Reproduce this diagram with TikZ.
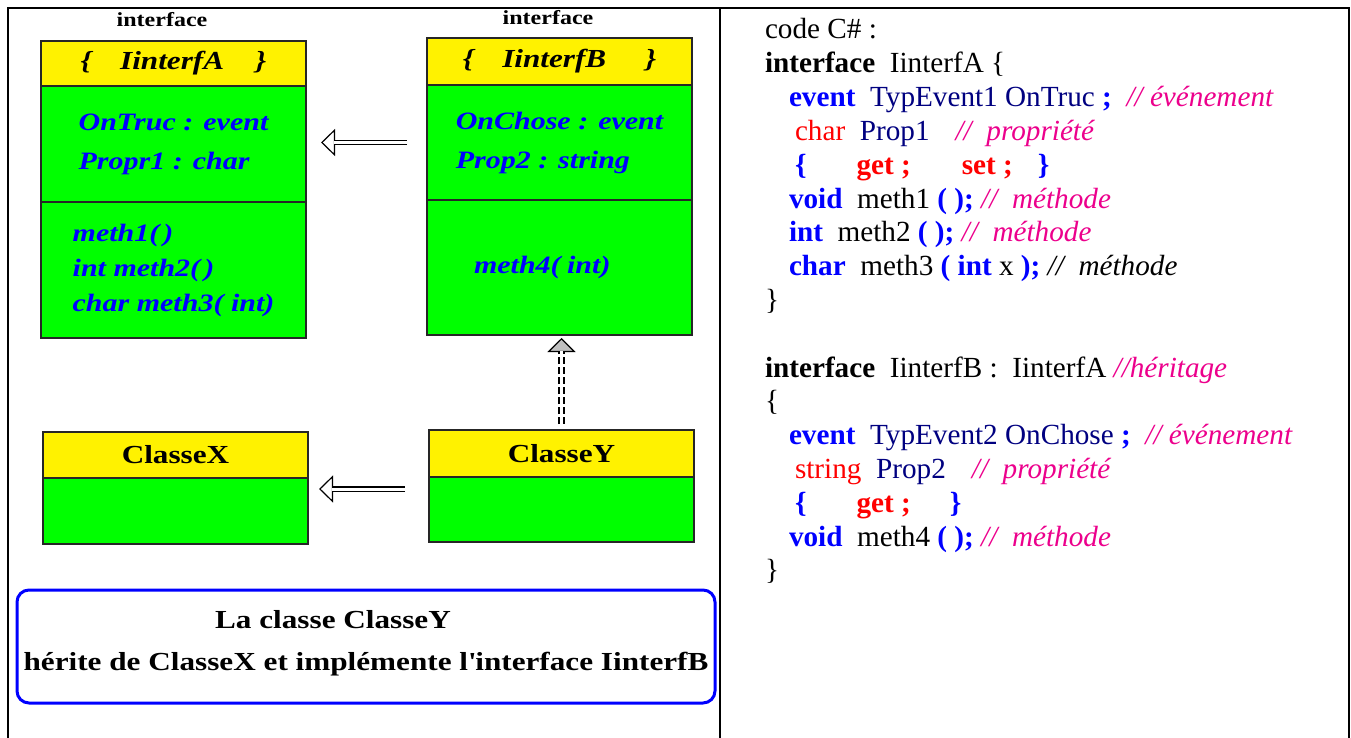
\documentclass[tikz,border=0pt]{standalone}
\usepackage{fontspec}
\setmainfont{Liberation Serif}
\newfontfamily\diagfont[FakeStretch=1.2]{Liberation Serif}
\usetikzlibrary{arrows.meta,positioning}
\definecolor{navy}{RGB}{0,0,128}
\newcommand{\kw}[1]{\textcolor{blue}{\textbf{#1}}}
\newcommand{\ty}[1]{\textcolor{navy}{#1}}
\newcommand{\rw}[1]{\textcolor{red}{#1}}
\newcommand{\rb}[1]{\textcolor{red}{\textbf{#1}}}
\newcommand{\cm}[1]{\textcolor{magenta}{\textit{#1}}}
\begin{document}
\begin{tikzpicture}[x=1pt,y=-1pt,every node/.style={inner sep=0pt,outer sep=0pt},
  head/.style={draw=black!85,line width=1.2pt,fill=yellow,minimum width=265pt,font=\diagfont\fontsize{26}{30}\selectfont\bfseries},
  comp/.style={draw=black!85,line width=1.2pt,fill=green,minimum width=265pt,align=left,text=blue,font=\diagfont\fontsize{25}{39}\selectfont\bfseries\itshape},
  tag/.style={font=\diagfont\fontsize{20}{22}\selectfont\bfseries},
  code/.style={anchor=base west,font=\fontsize{29.2}{33}\selectfont},
  shaft/.style={double=white,double distance=3pt,line width=1.2pt},
  hollow/.style={line width=1.2pt,-{Triangle[fill=white,length=14pt,width=27pt]}}]
\useasboundingbox (0,0) rectangle (1351,738);
\draw[line width=2pt] (8,750) -- (8,8) -- (1349,8) -- (1349,750);
\draw[line width=2pt] (720,8) -- (720,750);

% interfaces
\node[tag] (tagA) at (162,20) {interface};
\node[tag] (tagB) at (548,18) {interface};
\node[head,minimum height=45pt,anchor=north west] (Ahead) at (41,41) {\itshape\{\hspace{1.1em}IinterfA\hspace{1.2em}\}};
\node[comp,minimum height=116pt,below=0pt of Ahead] (Aattr) {OnTruc : event\\Propr1 : char};
\node[comp,minimum height=136pt,below=0pt of Aattr,font=\diagfont\fontsize{25}{35}\selectfont\bfseries\itshape] (Ameth) {meth1(\,)\\int meth2(\,)\\char meth3( int)};
\node[head,minimum height=47pt,anchor=north west] (Bhead) at (427,38) {\itshape\{\hspace{1.1em}IinterfB\hspace{1.5em}\}};
\node[comp,minimum height=115pt,below=0pt of Bhead] (Battr) {OnChose : event\\Prop2 : string};
\node[comp,minimum height=135pt,below=0pt of Battr] (Bmeth) {};
\node[comp,draw=none,fill=none,minimum width=0pt,anchor=west] (Btxt) at ([xshift=47pt]Bmeth.west) {meth4(\hspace{-1pt} int)};

% classes
\node[head,minimum height=46pt,anchor=north west] (Xhead) at (43,432) {ClasseX};
\node[comp,minimum height=66pt,below=0pt of Xhead] (Xbody) {};
\node[head,minimum height=47pt,anchor=north west] (Yhead) at (429,430) {ClasseY};
\node[comp,minimum height=65pt,below=0pt of Yhead] (Ybody) {};

% heritage / implementation
\draw[hollow,shorten <=20pt,shorten >=15pt] (Battr.west) -- (Battr.west -| Aattr.east);
\draw[shaft,shorten <=20pt,shorten >=28pt] (Battr.west) -- (Battr.west -| Aattr.east);
\coordinate (yx) at ([yshift=-12pt]Ybody.north west);
\draw[hollow,shorten <=24pt,shorten >=11pt] (yx) -- (yx -| Xbody.east);
\draw[shaft,shorten <=24pt,shorten >=24pt] (yx) -- (yx -| Xbody.east);
\draw[white,line width=1.2pt,-{Triangle[color=black,fill=black!25,length=14pt,width=28pt]},shorten <=6pt,shorten >=3pt] (Yhead.north) -- (Yhead.north |- Bmeth.south);
\draw[double=white,double distance=2.6pt,line width=2.3pt,dash pattern=on 7pt off 3pt,shorten <=6pt,shorten >=16pt] (Yhead.north) -- (Yhead.north |- Bmeth.south);

\node[draw=blue,line width=3pt,rounded corners=12pt,minimum width=698pt,minimum height=113pt,anchor=north west] (note) at (17,590) {};
\node[font=\diagfont\fontsize{26}{30}\selectfont\bfseries] (note1) at (333,620) {La classe ClasseY};
\node[font=\diagfont\fontsize{26}{30}\selectfont\bfseries] (note2) at (366,664) {hérite de ClasseX et implémente l\textquotesingle interface IinterfB};

% code C#
\node[code] (c1) at (765,39) {code C\# :};
\node[code] (c2) at (765,72.8) {\textbf{interface}~~IinterfA \{};
\node[code] (c3) at (789,106.6) {\kw{event}~~\ty{TypEvent1 OnTruc} \kw{;}~~\cm{// événement}};
\node[code] (c4) at (795,140.4) {\rw{char}~~\ty{Prop1}\hspace{26pt}\cm{//~~propriété}};
\node[code] (c5) at (795,174.2) {\kw{\{}\hspace{50pt}\rb{get ;}\hspace{51pt}\rb{set ;}\hspace{25pt}\kw{\}}};
\node[code] (c6) at (789,208) {\kw{void}~~meth1 \kw{( );} \cm{//~~méthode}};
\node[code] (c7) at (789,241.8) {\kw{int}~~meth2 \kw{( );} \cm{//~~méthode}};
\node[code] (c8) at (789,275.6) {\kw{char}~~meth3 \kw{( int} x \kw{);} \textit{//~~méthode}};
\node[code] (c9) at (765,309.4) {\}};
\node[code] (c10) at (765,377) {\textbf{interface}~~IinterfB :~~IinterfA \cm{//héritage}};
\node[code] (c11) at (765,410.8) {\{};
\node[code] (c12) at (789,444.6) {\kw{event}~~\ty{TypEvent2 OnChose} \kw{;}~~\cm{// événement}};
\node[code] (c13) at (795,478.4) {\rw{string}~~\ty{Prop2}\hspace{26pt}\cm{//~~propriété}};
\node[code] (c14) at (795,512.2) {\kw{\{}\hspace{50pt}\rb{get ;}\hspace{39pt}\kw{\}}};
\node[code] (c15) at (789,546) {\kw{void}~~meth4 \kw{( );} \cm{//~~méthode}};
\node[code] (c16) at (765,579.8) {\}};
\end{tikzpicture}
\end{document}
